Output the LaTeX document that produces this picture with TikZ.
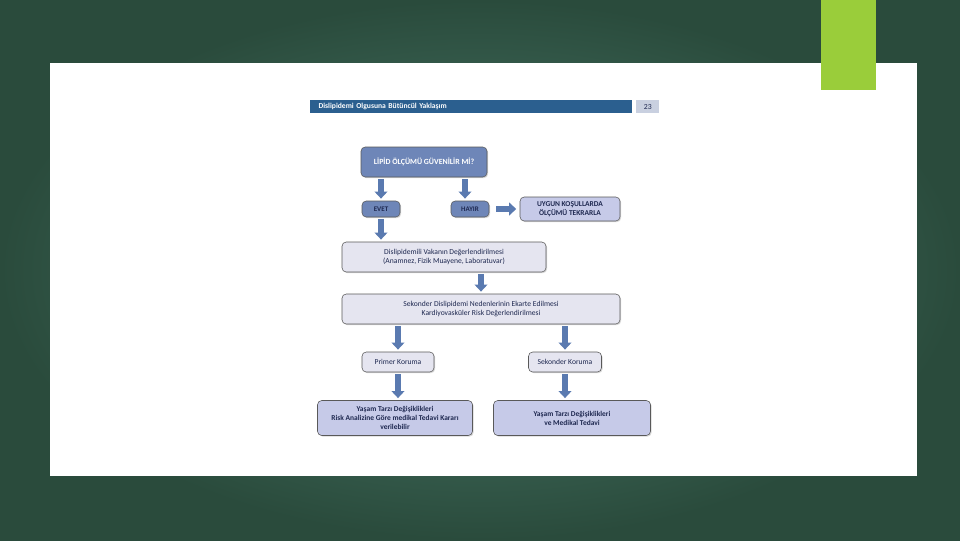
\documentclass[tikz,border=0pt]{standalone}
\usepackage{fontspec}
\setmainfont{Carlito}
\usepackage{xcolor}
\usetikzlibrary{arrows.meta,shadows}

\definecolor{slidedark}{HTML}{2A4B3C}
\definecolor{slidelight}{HTML}{4E8070}
\definecolor{limebar}{HTML}{9ACD3A}
\definecolor{headblue}{HTML}{2B5F8F}
\definecolor{pagegray}{HTML}{C9D0E0}
\definecolor{midblue}{HTML}{6E86B8}
\definecolor{lavender}{HTML}{C6CAE8}
\definecolor{paleblue}{HTML}{E5E5F0}
\definecolor{arrowblue}{HTML}{5A7AB0}
\definecolor{navytext}{HTML}{1E2850}
\newcommand{\pxu}{0.025cm}

\tikzset{
  flowbox/.style={draw=black!65, line width=0.4pt, rounded corners=3pt,
    inner sep=0pt, align=center, text=navytext,
    drop shadow={shadow xshift=0.8pt, shadow yshift=-0.8pt, fill=black!30},
    font=\fontsize{5.4}{6.4}\selectfont},
  askbox/.style={flowbox, fill=midblue},
  answerbox/.style={flowbox, fill=lavender, font=\bfseries\fontsize{5.3}{6.3}\selectfont},
  stepbox/.style={flowbox, fill=paleblue},
  blockarrow/.style={draw=arrowblue, line width=4pt,
    -{Triangle[width=9pt,length=5pt]}, shorten <=1.5pt, shorten >=1.5pt}
}

\begin{document}
\begin{tikzpicture}[x=\pxu, y=-\pxu]
  % slide background
  \shade[inner color=slidelight, outer color=slidedark] (0,0) rectangle (960,540);
  \useasboundingbox (0,0) rectangle (960,540);
  \fill[white] (50,63) rectangle (917,476);
  \fill[limebar] (821,0) rectangle (876,90);

  % page header
  \node[fill=headblue, text=white, anchor=north west, minimum width=322*\pxu,
        minimum height=13*\pxu, inner sep=0pt, text width=314*\pxu,
        font=\bfseries\fontsize{5.4}{6}\selectfont] (header) at (310,100)
        {\hspace*{3pt}Dislipidemi Olgusuna Bütüncül Yaklaşım};
  \node[fill=pagegray, text=navytext, anchor=north west, minimum width=23*\pxu,
        minimum height=13*\pxu, inner sep=0pt,
        font=\fontsize{5.5}{6}\selectfont] (pageno) at (636,100) {23};

  % flow
  \node[askbox, text=white, minimum width=126*\pxu, minimum height=30*\pxu,
        font=\bfseries\fontsize{5.6}{6.6}\selectfont] (lipid) at (424,162)
        {LİPİD ÖLÇÜMÜ GÜVENİLİR Mİ?};
  \node[askbox, minimum width=38*\pxu, minimum height=16*\pxu,
        font=\bfseries\fontsize{5}{5.5}\selectfont] (evet) at (381,209) {EVET};
  \node[askbox, minimum width=38*\pxu, minimum height=16*\pxu,
        font=\bfseries\fontsize{5}{5.5}\selectfont] (hayir) at (470,209) {HAYIR};
  \node[answerbox, minimum width=100*\pxu, minimum height=24*\pxu] (tekrar) at (570,209)
        {UYGUN KOŞULLARDA\\ÖLÇÜMÜ TEKRARLA};
  \node[stepbox, minimum width=204*\pxu, minimum height=30*\pxu] (vaka) at (444,257)
        {Dislipidemili Vakanın Değerlendirilmesi\\(Anamnez, Fizik Muayene, Laboratuvar)};
  \node[stepbox, minimum width=278*\pxu, minimum height=30*\pxu] (ekarte) at (481,309)
        {Sekonder Dislipidemi Nedenlerinin Ekarte Edilmesi\\Kardiyovasküler Risk Değerlendirilmesi};
  \node[stepbox, minimum width=72*\pxu, minimum height=20*\pxu] (primer) at (398,362)
        {Primer Koruma};
  \node[stepbox, minimum width=73*\pxu, minimum height=20*\pxu] (sekonder) at (565,362)
        {Sekonder Koruma};
  \node[answerbox, minimum width=155*\pxu, minimum height=35*\pxu] (tedavisol) at (395,418)
        {Yaşam Tarzı Değişiklikleri\\Risk Analizine Göre medikal Tedavi Kararı\\verilebilir};
  \node[answerbox, minimum width=157*\pxu, minimum height=35*\pxu] (tedavisag) at (572,418)
        {Yaşam Tarzı Değişiklikleri\\ve Medikal Tedavi};

  % arrows
  \draw[blockarrow] (lipid.south -| evet) -- (evet);
  \draw[blockarrow] (lipid.south -| 465,0) -- (hayir.north -| 465,0);
  \draw[blockarrow, shorten <=5pt, shorten >=2.5pt] (hayir) -- (tekrar);
  \draw[blockarrow] (evet) -- (evet |- vaka.north);
  \draw[blockarrow] (vaka.south -| ekarte) -- (ekarte);
  \draw[blockarrow] (ekarte.south -| primer) -- (primer);
  \draw[blockarrow] (ekarte.south -| sekonder) -- (sekonder);
  \draw[blockarrow] (primer) -- (primer |- tedavisol.north);
  \draw[blockarrow] (sekonder) -- (sekonder |- tedavisag.north);
\end{tikzpicture}
\end{document}
